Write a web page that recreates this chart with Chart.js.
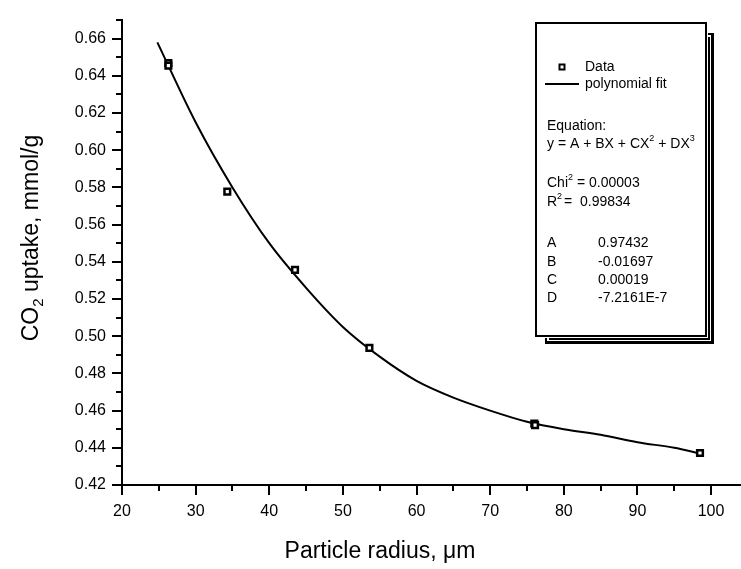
<!DOCTYPE html>
<html>
<head>
<meta charset="utf-8">
<script src="https://cdn.jsdelivr.net/npm/chart.js"></script>
<style>
  html, body { margin: 0; padding: 0; background: #fff; overflow: hidden; }
  #wrap { width: 747px; height: 569px; }
</style>
</head>
<body>
<div id="wrap"><canvas id="chart"></canvas></div>
<script>
const FONT = '"Liberation Sans", Arial, sans-serif';

// measured points (two of them are doubled in the original plot)
const radius = [26.3, 26.3, 34.3, 43.5, 53.6, 76.0, 76.1, 98.5];
const uptake = [0.6469, 0.6455, 0.5777, 0.5357, 0.4937, 0.4530, 0.4522, 0.4372];

// polynomial fit curve
const fitRadius = [24.8, 30, 35, 40, 45, 50, 55, 60, 65, 70, 75, 80, 85, 90, 95, 98.5];
const fitUptake = [0.658, 0.615, 0.580, 0.550, 0.526, 0.505, 0.489, 0.476, 0.467, 0.460, 0.454, 0.450, 0.447, 0.443, 0.440, 0.437];

const xTitle = "Particle radius, \u03bcm";
const legendParams = [["A", "0.97432"], ["B", "-0.01697"], ["C", "0.00019"], ["D", "-7.2161E-7"]];

function toPoints(xs, ys) {
  return xs.map((x, i) => ({ x, y: ys[i] }));
}

function isMajorY(v) {
  return Math.round(v * 100) % 2 === 0;
}

// draws text pieces, raising pieces flagged as superscript / lowering subscript
function drawRich(ctx, parts, x, y, size) {
  let cx = x;
  parts.forEach(([text, kind]) => {
    const s = kind ? Math.round(size * 0.65) : size;
    const dy = kind === "sup" ? -size * 0.38 : kind === "sub" ? size * 0.3 : 0;
    ctx.font = `${s}px ${FONT}`;
    ctx.fillText(text, cx, y + dy);
    cx += ctx.measureText(text).width;
  });
  return cx;
}

function richWidth(ctx, parts, size) {
  return parts.reduce((w, [text, kind]) => {
    ctx.font = `${kind ? Math.round(size * 0.65) : size}px ${FONT}`;
    return w + ctx.measureText(text).width;
  }, 0);
}

const decorations = {
  id: "decorations",
  afterDraw(chart) {
    const ctx = chart.ctx;
    const { left, bottom } = chart.chartArea;
    const xs = chart.scales.x;
    const ys = chart.scales.y;
    ctx.save();
    ctx.strokeStyle = "#000";
    ctx.fillStyle = "#000";
    ctx.lineWidth = 2;

    // outward tick marks, long for labelled values
    xs.ticks.forEach((t) => {
      const px = Math.round(xs.getPixelForValue(t.value));
      const len = t.value % 10 === 0 ? 10 : 6;
      ctx.beginPath();
      ctx.moveTo(px, bottom);
      ctx.lineTo(px, bottom + len);
      ctx.stroke();
    });
    ys.ticks.forEach((t) => {
      const py = Math.round(ys.getPixelForValue(t.value));
      const len = isMajorY(t.value) ? 10 : 6;
      ctx.beginPath();
      ctx.moveTo(left, py);
      ctx.lineTo(left - len, py);
      ctx.stroke();
    });

    // axis titles
    ctx.textBaseline = "middle";
    ctx.textAlign = "left";
    ctx.font = `23px ${FONT}`;
    const xw = ctx.measureText(xTitle).width;
    ctx.fillText(xTitle, 380 - xw / 2, 552);

    ctx.save();
    ctx.translate(32, 238);
    ctx.rotate(-Math.PI / 2);
    const yParts = [["CO", null], ["2", "sub"], [" uptake, mmol/g", null]];
    drawRich(ctx, yParts, -richWidth(ctx, yParts, 23) / 2, 0, 23);
    ctx.restore();

    // legend box with double-line drop shadow
    ctx.fillStyle = "#000";
    ctx.fillRect(545, 33, 169, 311);
    ctx.fillStyle = "#fff";
    ctx.fillRect(547, 35, 164, 306);
    ctx.fillStyle = "#000";
    ctx.fillRect(549, 37, 161, 303);
    ctx.fillStyle = "#fff";
    ctx.fillRect(534, 21, 174, 317);
    ctx.strokeRect(536, 23, 170, 313);

    ctx.lineWidth = 2;
    ctx.strokeRect(559.5, 64.5, 5, 5);
    ctx.fillStyle = "#000";
    ctx.beginPath();
    ctx.moveTo(545, 84);
    ctx.lineTo(579, 84);
    ctx.stroke();

    const fs = 14;
    ctx.font = `${fs}px ${FONT}`;
    ctx.fillText("Data", 585, 67);
    ctx.fillText("polynomial fit", 585, 84);
    ctx.fillText("Equation:", 547, 126);
    drawRich(ctx, [["y = A + BX + CX", null], ["2", "sup"], [" + DX", null], ["3", "sup"]], 547, 144, fs);
    drawRich(ctx, [["Chi", null], ["2", "sup"]], 547, 183, fs);
    ctx.font = `${fs}px ${FONT}`;
    ctx.fillText("= 0.00003", 577, 183);
    drawRich(ctx, [["R", null], ["2", "sup"]], 547, 202, fs);
    ctx.font = `${fs}px ${FONT}`;
    ctx.fillText("=  0.99834", 564, 202);
    legendParams.forEach(([name, value], i) => {
      const y = [243, 262, 280, 298][i];
      ctx.fillText(name, 547, y);
      ctx.fillText(value, 598, y);
    });
    ctx.restore();
  },
};

Chart.defaults.font.family = FONT;
Chart.defaults.color = "#000";

new Chart(document.getElementById("chart"), {
  type: "scatter",
  data: {
    datasets: [
      {
        label: "polynomial fit",
        type: "line",
        data: toPoints(fitRadius, fitUptake),
        borderColor: "#000",
        borderWidth: 2,
        pointRadius: 0,
        cubicInterpolationMode: "monotone",
        fill: false,
        order: 2,
      },
      {
        label: "Data",
        data: toPoints(radius, uptake),
        pointStyle: "rect",
        pointRadius: 4,
        borderColor: "#000",
        borderWidth: 2.5,
        backgroundColor: "#fff",
        order: 1,
      },
    ],
  },
  options: {
    responsive: true,
    maintainAspectRatio: false,
    animation: false,
    layout: { padding: { top: 20, right: 1, left: 0, bottom: 0 } },
    plugins: {
      legend: { display: false },
      tooltip: { enabled: false },
    },
    scales: {
      x: {
        type: "linear",
        min: 20,
        max: 104,
        grid: { display: true, drawOnChartArea: false, drawTicks: true, tickLength: 10, tickColor: "rgba(0,0,0,0)" },
        border: { display: true, color: "#000", width: 2 },
        ticks: {
          stepSize: 5,
          includeBounds: false,
          autoSkip: false,
          maxRotation: 0,
          padding: 7,
          font: { size: 16 },
          callback: (v) => (v % 10 === 0 ? String(v) : ""),
        },
        afterFit: (scale) => { scale.height = 84; },
      },
      y: {
        type: "linear",
        min: 0.42,
        max: 0.67,
        grid: { display: true, drawOnChartArea: false, drawTicks: true, tickLength: 10, tickColor: "rgba(0,0,0,0)" },
        border: { display: true, color: "#000", width: 2 },
        ticks: {
          stepSize: 0.01,
          includeBounds: false,
          autoSkip: false,
          padding: 6,
          font: { size: 16 },
          callback: (v) => (isMajorY(v) ? v.toFixed(2) : ""),
        },
        afterFit: (scale) => { scale.width = 122; },
      },
    },
  },
  plugins: [decorations],
});
</script>
</body>
</html>
